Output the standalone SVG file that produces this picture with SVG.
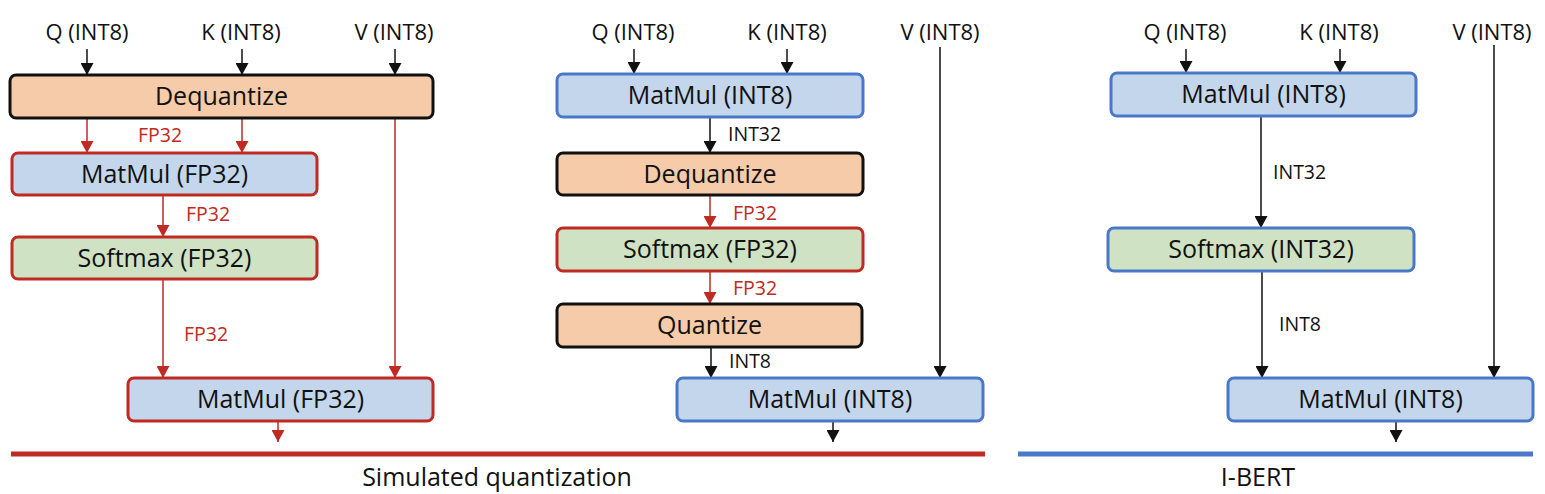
<svg xmlns="http://www.w3.org/2000/svg" width="1545" height="494" viewBox="0 0 1545 494">
<style>
text{font-family:"Open Sans","Liberation Sans",sans-serif;fill:#111}
.in{font-size:22px;text-anchor:middle}
.bx{font-size:25px;text-anchor:middle}
.lb{font-size:19.5px}
.lr{font-size:19.5px;fill:#BF2A22}
.cap{font-size:25px;text-anchor:middle}
.peach{fill:#F5CBA9}
.blue{fill:#C3D6EC}
.green{fill:#CFE2C3}
.sk{stroke:#111;stroke-width:3}
.sr{stroke:#BF2A22;stroke-width:3}
.sb{stroke:#4A78C8;stroke-width:3}
.ak{stroke:#111;stroke-width:1.5;fill:none;marker-end:url(#mk)}
.ar{stroke:#BF2A22;stroke-width:1.5;fill:none;marker-end:url(#mr)}
</style>
<defs>
<marker id="mk" markerUnits="userSpaceOnUse" markerWidth="13" markerHeight="13" refX="12" refY="6.5" orient="auto"><path d="M0,0 L12,6.5 L0,13 z" fill="#111"/></marker>
<marker id="mr" markerUnits="userSpaceOnUse" markerWidth="13" markerHeight="13" refX="12" refY="6.5" orient="auto"><path d="M0,0 L12,6.5 L0,13 z" fill="#BF2A22"/></marker>
</defs>
<rect width="1545" height="494" fill="#fff"/>

<g id="connectors">
<path class="ak" d="M87,49V75"/>
<path class="ak" d="M242,49V75"/>
<path class="ak" d="M395,49V75"/>
<path class="ar" d="M87,118V153"/>
<path class="ar" d="M242,118V153"/>
<path class="ar" d="M163,195V237"/>
<path class="ar" d="M163,279V378"/>
<path class="ar" d="M395,118V378"/>
<path class="ar" d="M278,421V442"/>
<path class="ak" d="M634,49V74"/>
<path class="ak" d="M787,49V74"/>
<path class="ak" d="M710,117V153"/>
<path class="ar" d="M710,195V228"/>
<path class="ar" d="M710,271V304"/>
<path class="ak" d="M711,347V378"/>
<path class="ak" d="M940,47V378"/>
<path class="ak" d="M833,421V442"/>
<path class="ak" d="M1186,49V73"/>
<path class="ak" d="M1340,49V73"/>
<path class="ak" d="M1261,116V228"/>
<path class="ak" d="M1262,271V378"/>
<path class="ak" d="M1494,45V378"/>
<path class="ak" d="M1396,421V442"/>
</g>

<g id="edge-labels">
<text class="lr" x="138" y="142">FP32</text>
<text class="lr" x="186" y="221">FP32</text>
<text class="lr" x="184" y="341">FP32</text>
<text class="lb" x="728" y="141">INT32</text>
<text class="lr" x="733" y="220">FP32</text>
<text class="lr" x="733" y="295">FP32</text>
<text class="lb" x="729" y="368">INT8</text>
<text class="lb" x="1273" y="179">INT32</text>
<text class="lb" x="1279" y="331">INT8</text>
</g>

<g id="inputs">
<text class="in" x="87" y="40">Q (INT8)</text>
<text class="in" x="241" y="40">K (INT8)</text>
<text class="in" x="394" y="40">V (INT8)</text>
<text class="in" x="633" y="40">Q (INT8)</text>
<text class="in" x="787" y="40">K (INT8)</text>
<text class="in" x="940" y="40">V (INT8)</text>
<text class="in" x="1185" y="40">Q (INT8)</text>
<text class="in" x="1339" y="40">K (INT8)</text>
<text class="in" x="1492" y="40">V (INT8)</text>
</g>

<g id="sim-dequantize"><rect class="peach sk" x="10" y="75" width="423" height="43" rx="6"/><text class="bx" x="221.5" y="105">Dequantize</text></g>
<g id="sim-matmul1"><rect class="blue sr" x="12" y="153" width="305" height="42" rx="6"/><text class="bx" x="164.5" y="182.5">MatMul (FP32)</text></g>
<g id="sim-softmax"><rect class="green sr" x="12" y="237" width="305" height="42" rx="6"/><text class="bx" x="164.5" y="266.5">Softmax (FP32)</text></g>
<g id="sim-matmul2"><rect class="blue sr" x="128" y="378" width="305" height="43" rx="6"/><text class="bx" x="280.5" y="408">MatMul (FP32)</text></g>

<g id="mid-matmul1"><rect class="blue sb" x="557" y="74" width="306" height="43" rx="6"/><text class="bx" x="710" y="104">MatMul (INT8)</text></g>
<g id="mid-dequantize"><rect class="peach sk" x="557" y="153" width="306" height="42" rx="6"/><text class="bx" x="710" y="182.5">Dequantize</text></g>
<g id="mid-softmax"><rect class="green sr" x="557" y="228" width="306" height="43" rx="6"/><text class="bx" x="710" y="258">Softmax (FP32)</text></g>
<g id="mid-quantize"><rect class="peach sk" x="557" y="304" width="305" height="43" rx="6"/><text class="bx" x="709.5" y="334">Quantize</text></g>
<g id="mid-matmul2"><rect class="blue sb" x="677" y="378" width="306" height="43" rx="6"/><text class="bx" x="830" y="408">MatMul (INT8)</text></g>

<g id="ibert-matmul1"><rect class="blue sb" x="1111" y="73" width="305" height="43" rx="6"/><text class="bx" x="1263.5" y="103">MatMul (INT8)</text></g>
<g id="ibert-softmax"><rect class="green sb" x="1108" y="228" width="306" height="43" rx="6"/><text class="bx" x="1261" y="258">Softmax (INT32)</text></g>
<g id="ibert-matmul2"><rect class="blue sb" x="1228" y="378" width="305" height="43" rx="6"/><text class="bx" x="1380.5" y="408">MatMul (INT8)</text></g>

<g id="captions">
<rect x="11" y="451.5" width="974" height="5" fill="#BF2A22"/>
<rect x="1018" y="451.5" width="515" height="5" fill="#4A78C8"/>
<text class="cap" x="497" y="486">Simulated quantization</text>
<text class="cap" x="1258" y="486">I-BERT</text>
</g>
</svg>
